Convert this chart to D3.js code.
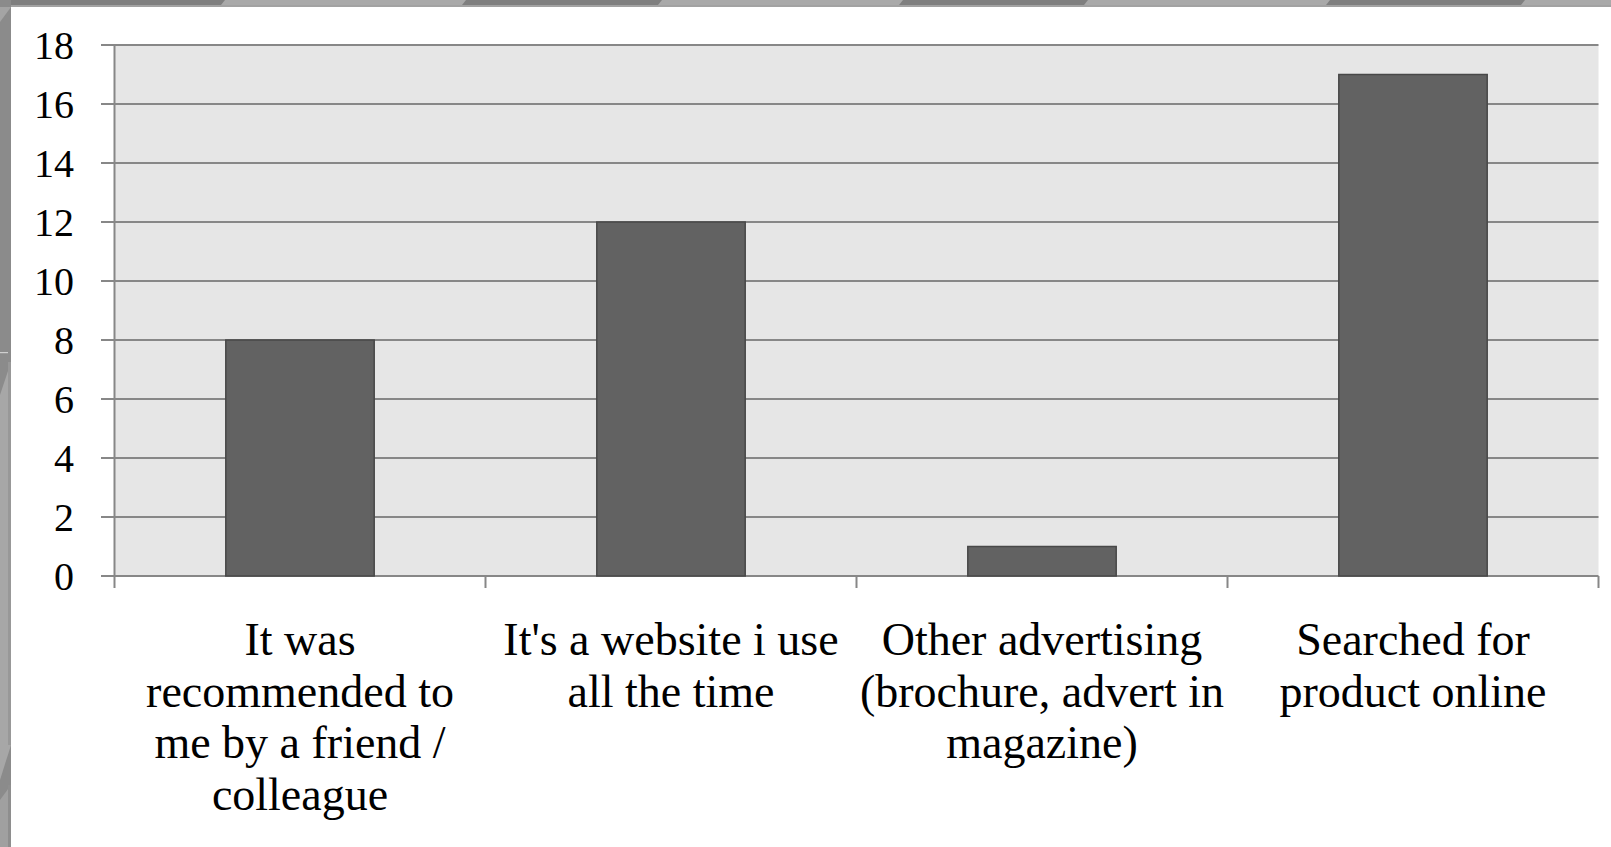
<!DOCTYPE html>
<html>
<head>
<meta charset="utf-8">
<script src="https://cdn.jsdelivr.net/npm/d3@7"></script>
<style>
  html, body { margin: 0; padding: 0; background: #ffffff; }
  svg { display: block; }
</style>
</head>
<body>
<svg id="chart" width="1611" height="847"></svg>
<script>
// Survey: how respondents found the site
const categories = [
  "It was recommended to me by a friend / colleague",
  "It's a website i use all the time",
  "Other advertising (brochure, advert in magazine)",
  "Searched for product online"
];
const categoryLines = [
  ["It was", "recommended to", "me by a friend /", "colleague"],
  ["It's a website i use", "all the time"],
  ["Other advertising", "(brochure, advert in", "magazine)"],
  ["Searched for", "product online"]
];
const counts = [8, 12, 1, 17];
const yTicks = [0, 2, 4, 6, 8, 10, 12, 14, 16, 18];

const svg = d3.select("#chart");
const W = 1611, H = 847;

// ---- slide frame decoration (top and left strips) ----
const frame = svg.append("g");
frame.append("rect").attr("x", 0).attr("y", 0).attr("width", W).attr("height", 7).attr("fill", "#a2a2a2");
frame.append("rect").attr("x", 0).attr("y", 0).attr("width", W).attr("height", 5).attr("fill", "#7f7f7f");
[[221, 462], [658, 899], [1084, 1326], [1521, 1640]].forEach(([a, b]) => {
  frame.append("path")
    .attr("d", `M${a},5 L${a + 4},0 L${b + 4},0 L${b},5 Z`)
    .attr("fill", "#a9a9a9");
});
// left strip
frame.append("rect").attr("x", 0).attr("y", 0).attr("width", 11).attr("height", H).attr("fill", "#8b8b8b");
frame.append("path").attr("d", "M0,22 L11,7 L0,7 Z").attr("fill", "#a4a4a4");
frame.append("path").attr("d", `M0,395 L11,362 L11,745 L0,780 Z`).attr("fill", "#a7a7a7");
frame.append("rect").attr("x", 8).attr("y", 362).attr("width", 3).attr("height", 383).attr("fill", "#989898");
frame.append("path").attr("d", `M0,800 L11,785 L11,${H} L0,${H} Z`).attr("fill", "#a0a0a0");
frame.append("rect").attr("x", 8).attr("y", 785).attr("width", 3).attr("height", H - 785).attr("fill", "#8e8e8e");
frame.append("rect").attr("x", 0).attr("y", 352).attr("width", 8).attr("height", 1.2).attr("fill", "#cfcfcf");

// ---- chart ----
const plotLeft = 114.5, plotRight = 1598.5, plotTop = 45, plotBottom = 576;

const x = d3.scaleBand()
  .domain(categories)
  .range([plotLeft, plotRight])
  .paddingInner(0.6)
  .paddingOuter(0.3);

const y = d3.scaleLinear()
  .domain([0, 18])
  .range([plotBottom, plotTop]);

// plot area background
svg.append("rect")
  .attr("x", plotLeft).attr("y", plotTop)
  .attr("width", plotRight - plotLeft).attr("height", plotBottom - plotTop)
  .attr("fill", "#e6e6e6");

// horizontal gridlines with left tick stubs
svg.append("g").selectAll("line")
  .data(yTicks)
  .join("line")
  .attr("x1", 101).attr("x2", plotRight)
  .attr("y1", d => y(d)).attr("y2", d => y(d))
  .attr("stroke", "#878787")
  .attr("stroke-width", 2);

// y tick labels
svg.append("g").selectAll("text")
  .data(yTicks)
  .join("text")
  .attr("x", 74)
  .attr("y", d => y(d) + 13.5)
  .attr("text-anchor", "end")
  .attr("font-family", "'Liberation Serif', 'Times New Roman', serif")
  .attr("font-size", 40)
  .attr("fill", "#000")
  .text(d => d);

// bars
svg.append("g").selectAll("rect")
  .data(counts)
  .join("rect")
  .attr("x", (d, i) => x(categories[i]))
  .attr("y", d => y(d))
  .attr("width", x.bandwidth())
  .attr("height", d => y(0) - y(d))
  .attr("fill", "#626262")
  .attr("stroke", "#484848")
  .attr("stroke-width", 1.5);

// vertical axis line
svg.append("line")
  .attr("x1", plotLeft).attr("x2", plotLeft)
  .attr("y1", plotTop).attr("y2", plotBottom + 12)
  .attr("stroke", "#878787").attr("stroke-width", 2);

// category axis ticks at band boundaries
const boundaries = categories.map(c => x(c) - x.step() * x.paddingOuter());
boundaries.push(plotRight);
svg.append("g").selectAll("line")
  .data(boundaries.slice(1))
  .join("line")
  .attr("x1", d => d).attr("x2", d => d)
  .attr("y1", plotBottom).attr("y2", plotBottom + 12)
  .attr("stroke", "#878787").attr("stroke-width", 2);

// category labels
const labels = svg.append("g")
  .attr("font-family", "'Liberation Serif', 'Times New Roman', serif")
  .attr("font-size", 46)
  .attr("fill", "#000")
  .attr("text-anchor", "middle");

categories.forEach((c, i) => {
  const t = labels.append("text")
    .attr("x", x(c) + x.bandwidth() / 2)
    .attr("y", 655);
  categoryLines[i].forEach((line, j) => {
    t.append("tspan")
      .attr("x", x(c) + x.bandwidth() / 2)
      .attr("y", 655 + j * 51.7)
      .text(line);
  });
});
</script>
</body>
</html>
